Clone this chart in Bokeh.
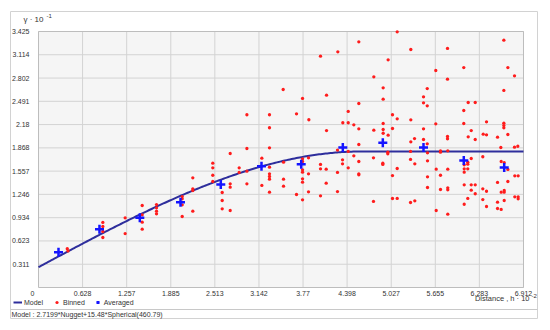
import numpy as np
from bokeh.plotting import figure
from bokeh.models import Label, Legend, LegendItem, Range1d
from bokeh.core.properties import value
from bokeh.embed import file_html
from bokeh.resources import INLINE

# ---------------- data ----------------
x_tick_labels = ["0.628", "1.257", "1.885", "2.513", "3.142", "3.77",
                 "4.398", "5.027", "5.655", "6.283", "6.912"]
y_tick_labels = ["0.311", "0.623", "0.934", "1.246", "1.557", "1.868",
                 "2.18", "2.491", "2.802", "3.114", "3.425"]

avg_x = [0.285, 0.869, 1.444, 2.024, 2.598, 3.178, 3.744, 4.337, 4.907, 5.487, 6.061, 6.637]
avg_y = [0.472, 0.780, 0.932, 1.141, 1.378, 1.623, 1.650, 1.873, 1.936, 1.873, 1.699, 1.605]

bin_x = [
    0.41, 0.42,
    0.917, 0.917, 0.917, 0.917,
    1.235, 1.235,
    1.478, 1.478, 1.478, 1.478,
    1.682, 1.682, 1.682, 1.682,
    2.048, 2.048, 2.048, 2.048,
    2.199, 2.199, 2.199, 2.199,
    2.484, 2.484, 2.484, 2.484,
    2.618, 2.618, 2.618,
    2.732, 2.732, 2.732, 2.732,
    2.860, 2.860,
    2.97, 2.97, 2.97, 2.97,
    3.183, 3.183,
    3.292, 3.292, 3.292, 3.292, 3.292, 3.292, 3.292, 3.292,
    3.492, 3.492, 3.492, 3.487,
    3.677, 3.763, 3.853, 4.019, 4.105, 4.105, 4.266, 4.337, 4.414, 4.414,
    4.494, 4.565, 4.565, 4.565, 4.565, 4.779, 4.779, 4.912, 4.912, 4.912,
    4.912, 4.912, 4.983, 4.983, 5.045, 5.045, 5.112, 5.112, 4.261,
    3.763, 3.763, 3.763, 3.763, 3.763, 3.763, 3.848, 3.848, 4.019, 4.019,
    4.100, 4.100, 3.677, 3.763, 3.848, 4.019, 4.261, 4.261, 4.333, 4.333,
    4.414, 4.414, 4.494, 4.565, 4.565, 4.565, 4.774, 4.907, 4.907, 4.978,
    4.978, 5.112, 5.045, 4.774, 5.045, 5.112, 5.302,
    5.306, 5.829, 5.662, 5.829, 6.061, 6.632, 6.689, 6.784, 6.632, 5.540,
    5.487, 5.487, 5.540, 6.124, 6.224, 6.061, 5.306, 5.662, 5.487, 6.061,
    6.385, 6.632, 6.632, 6.632, 6.167, 6.124, 6.224, 6.338, 6.385, 6.542,
    6.689, 5.829, 5.829, 5.306, 5.359, 5.487, 5.540, 5.544, 5.729, 5.729,
    5.833, 6.332, 6.589, 6.784, 6.831, 6.167, 6.118, 6.118, 6.067, 6.067,
    6.067, 6.118, 6.594, 6.637, 6.689, 5.302, 5.363, 5.544, 5.668, 5.833,
    5.729, 5.544, 5.544, 5.729, 5.833, 5.833, 6.067, 6.167, 6.224, 6.167,
    6.224, 6.332, 6.385, 6.542, 6.689, 6.594, 6.637, 6.637, 6.788, 6.836,
    6.788, 6.836, 6.836, 5.302, 5.363, 5.668, 5.833, 6.118, 6.067, 6.332,
    6.385, 6.542, 6.542, 6.594, 6.637,
]
bin_y = [
    0.52, 0.49,
    0.870, 0.816, 0.749, 0.669,
    0.932, 0.722,
    1.097, 0.972, 0.874, 0.780,
    1.110, 1.066, 1.021, 0.986,
    1.217, 1.186, 1.106, 0.950,
    1.468, 1.320, 1.298, 1.021,
    1.663, 1.601, 1.502, 1.418,
    1.271, 1.164, 1.053,
    1.793, 1.387, 1.342, 1.030,
    1.601, 1.539,
    1.556, 1.387, 2.311, 1.860,
    1.730, 1.365,
    1.610, 1.521, 1.485, 1.449, 1.275, 2.311, 2.137, 1.869,
    1.677, 1.449, 1.355, 2.649,
    2.324, 2.529, 2.244, 3.095, 2.573, 2.100, 3.153, 2.204, 2.204, 2.355,
    2.177, 3.287, 2.462, 2.123, 1.913, 2.819, 2.105, 2.672, 2.519, 2.194,
    2.114, 2.064, 2.038, 3.046, 2.311, 2.127, 3.421, 2.257, 1.838,
    1.722, 1.686, 1.575, 1.543, 1.454, 1.409, 1.735, 1.521, 1.646, 1.588,
    1.583, 1.395, 1.244, 1.173, 1.280, 1.227, 1.539, 1.284, 1.708, 1.655,
    1.820, 1.601, 1.762, 1.686, 1.521, 1.508, 1.735, 1.663, 1.646, 1.810,
    1.789, 1.592, 1.498, 1.151, 1.191, 1.191, 1.820,
    3.184, 3.198, 2.903, 2.787, 2.943, 3.309, 2.943, 2.832, 2.636, 2.662,
    2.551, 2.471, 2.431, 2.475, 2.475, 2.368, 2.244, 2.190, 2.123, 2.194,
    2.217, 2.198, 2.167, 2.137, 2.100, 2.016, 1.980, 2.051, 2.043, 2.011,
    2.047, 2.020, 1.989, 1.949, 1.993, 1.980, 1.922, 1.802, 1.829, 1.810,
    1.829, 1.749, 1.873, 1.877, 1.890, 1.726, 1.676, 1.650, 1.642, 1.588,
    1.543, 1.588, 1.686, 1.672, 1.579, 1.713, 1.655, 1.695, 1.583, 1.583,
    1.502, 1.481, 1.338, 1.311, 1.334, 1.307, 1.374, 1.374, 1.374, 1.302,
    1.254, 1.320, 1.288, 1.405, 1.418, 1.275, 1.298, 1.275, 1.494, 1.494,
    1.213, 1.213, 1.187, 1.137, 1.160, 1.030, 0.981, 1.191, 1.114, 1.177,
    1.084, 1.141, 1.057, 1.044, 1.164,
]

# fitted model shown in the status bar: nugget + partial sill * spherical(range)
nugget = 2.7199
partial_sill = 15.48
model_range = 460.79
status_text = "Model : 2.7199*Nugget+15.48*Spherical(460.79)"

# ---------------- model curve ----------------
x_max = float(x_tick_labels[-1])
y_max = float(y_tick_labels[-1])
h_disp = np.linspace(0, x_max, 300)
r = np.minimum(h_disp * 100.0 / model_range, 1.0)
gamma_disp = (nugget + partial_sill * (1.5 * r - 0.5 * r ** 3)) / 10.0

# ---------------- layout (pixels) ----------------
W, H = 545, 325
PLOT_W, PLOT_H = 485, 256
M_LEFT, M_TOP = 38, 31
M_RIGHT = W - M_LEFT - PLOT_W
M_BOTTOM = H - M_TOP - PLOT_H
dx = x_max / PLOT_W
dy = y_max / PLOT_H

def px_x(px):   # canvas pixel -> data x
    return (px - M_LEFT) * dx

def px_y(py):   # canvas pixel (from top) -> data y
    return (M_TOP + PLOT_H - py) * dy

FONT = "Liberation Sans"
TXT = "#333333"

p = figure(width=W, height=H,
           x_range=Range1d(px_x(0), px_x(W)),
           y_range=Range1d(px_y(H), px_y(0)),
           output_backend="svg", toolbar_location=None,
           min_border=0, background_fill_color="white", border_fill_color="white",
           outline_line_color=None)
p.xaxis.visible = False
p.yaxis.visible = False
p.xgrid.visible = False
p.ygrid.visible = False

xt = [float(s) for s in x_tick_labels]
yt = [float(s) for s in y_tick_labels]

# outer panel box and status bar separator
p.quad(left=[px_x(10)], right=[px_x(537)], bottom=[px_y(318)], top=[px_y(11)],
       fill_color=None, line_color="#d2d2d2", line_width=1)
p.segment(x0=[px_x(10)], y0=[px_y(309)], x1=[px_x(537)], y1=[px_y(309)],
          line_color="#c8c8c8", line_width=1)

# plot area, grid
p.quad(left=[0], right=[x_max], bottom=[0], top=[y_max],
       fill_color="#f5f5f5", line_color=None)
p.segment(x0=xt, y0=[0] * len(xt), x1=xt, y1=[y_max] * len(xt),
          line_color="#d3d3d3", line_width=1)
p.segment(x0=[0] * len(yt), y0=yt, x1=[x_max] * len(yt), y1=yt,
          line_color="#d3d3d3", line_width=1)
p.quad(left=[0], right=[x_max], bottom=[0], top=[y_max],
       fill_color=None, line_color="#bdbdbd", line_width=1)

# tick labels
p.text(x=xt, y=[0] * len(xt), text=x_tick_labels, y_offset=3,
       text_font=value(FONT), text_font_size="7px", text_color=TXT,
       text_align="center", text_baseline="top")
p.text(x=[0] * len(yt), y=yt, text=y_tick_labels, x_offset=-9,
       text_font=value(FONT), text_font_size="7px", text_color=TXT,
       text_align="right", text_baseline="middle")
p.text(x=[0], y=[0], text=["0"], x_offset=-6, y_offset=3,
       text_font=value(FONT), text_font_size="7px", text_color=TXT,
       text_align="center", text_baseline="top")

# data
model_r = p.line(h_disp, gamma_disp, line_color="#2e2e9c", line_width=2)
bin_r = p.scatter(bin_x, bin_y, marker="circle", size=3.3,
                  fill_color="#ff1c1c", line_color=None)
avg_r = p.scatter(avg_x, avg_y, marker="cross", size=9,
                  line_color="#1414ff", line_width=2.5)

# axis titles
p.add_layout(Label(x=0, y=y_max, text="γ · 10", x_offset=-15, y_offset=12,
                   text_font=FONT, text_color=TXT, text_font_size="8px",
                   text_baseline="middle"))
p.add_layout(Label(x=0, y=y_max, text="-1", x_offset=8, y_offset=16,
                   text_font=FONT, text_color=TXT, text_font_size="6px",
                   text_baseline="middle"))
p.add_layout(Label(x=x_max, y=0, text="Distance , h · 10", x_offset=6, y_offset=-11,
                   text_font=FONT, text_color=TXT, text_font_size="7.5px",
                   text_align="right", text_baseline="middle"))
p.add_layout(Label(x=x_max, y=0, text="-2", x_offset=8, y_offset=-8,
                   text_font=FONT, text_color=TXT, text_font_size="6px",
                   text_align="left", text_baseline="middle"))

# legend below the x labels
legend = Legend(items=[LegendItem(label="Model", renderers=[model_r]),
                       LegendItem(label="Binned", renderers=[bin_r]),
                       LegendItem(label="Averaged", renderers=[avg_r])],
                orientation="horizontal", location=(13, H - 306),
                label_text_font=FONT, label_text_font_size="7px",
                label_text_color=TXT,
                glyph_width=9, glyph_height=8, label_height=8,
                label_standoff=2, spacing=8, padding=0, margin=0,
                border_line_color=None, background_fill_alpha=0)
p.add_layout(legend)

# status bar text
p.add_layout(Label(x=px_x(11), y=px_y(313.5), text=status_text,
                   text_font=FONT, text_color=TXT, text_font_size="7px",
                   text_align="left", text_baseline="middle"))

open("out.html", "w").write(file_html(p, INLINE))
